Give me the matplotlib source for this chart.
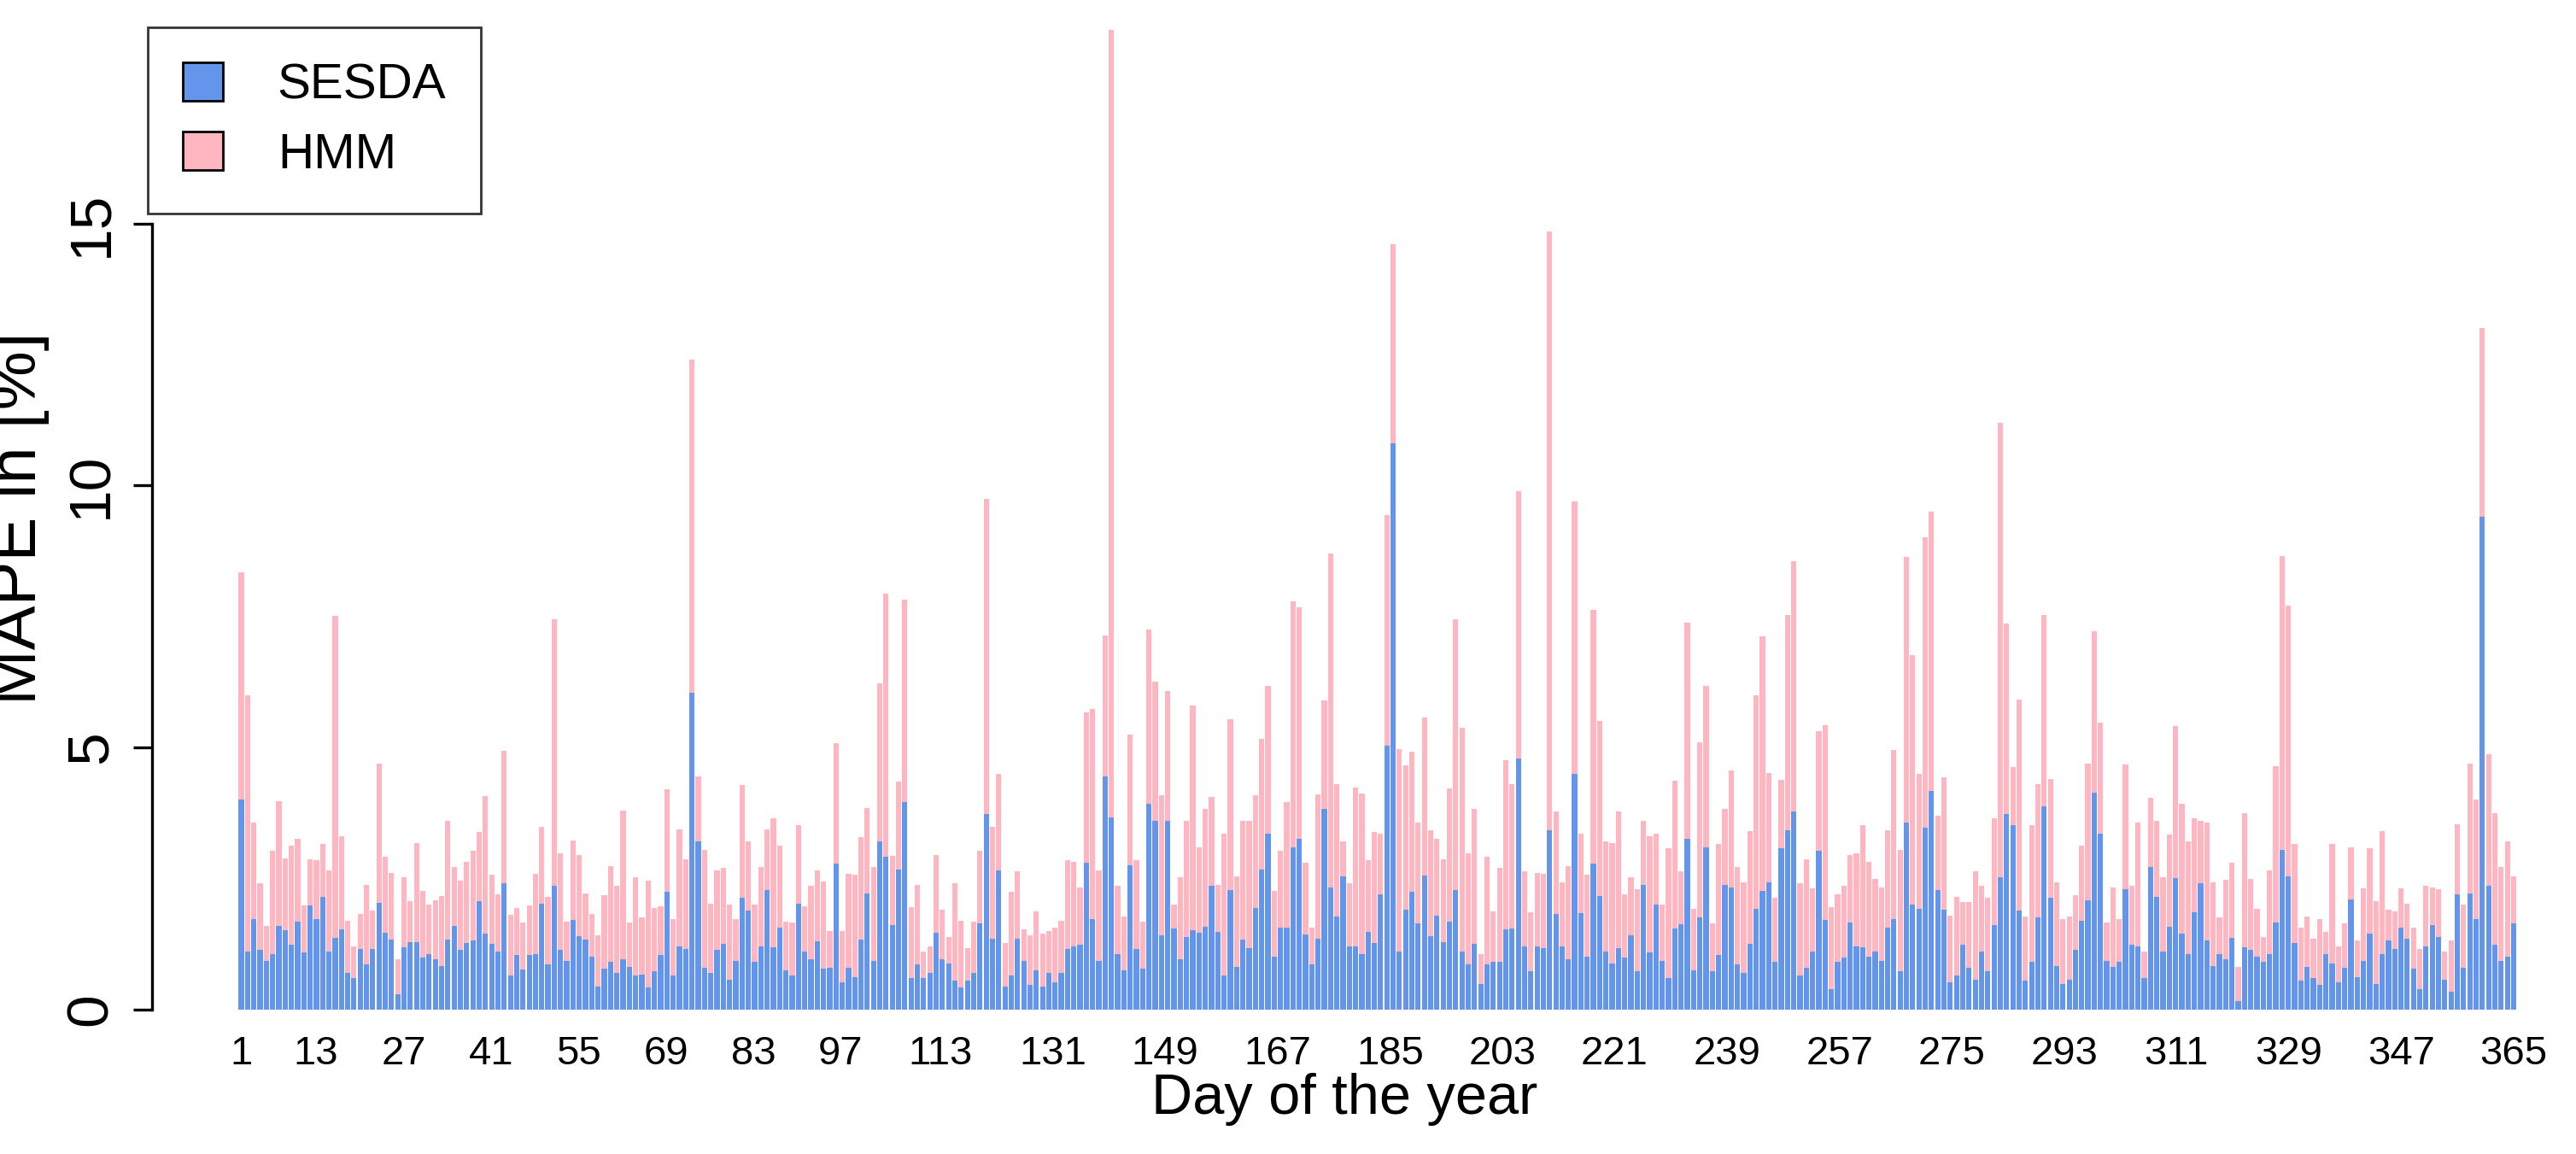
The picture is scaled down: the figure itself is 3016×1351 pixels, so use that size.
import numpy as np
import matplotlib
matplotlib.use('agg')
import matplotlib.pyplot as plt
from matplotlib.patches import Patch

plt.rcParams['font.family'] = ['Liberation Sans', 'DejaVu Sans']

# MAPE per day
hmm = [8.35, 6.0, 3.56, 2.41, 1.59, 3.03, 3.98, 2.88, 3.13, 3.26, 1.98, 2.87, 2.85, 3.16, 2.65, 7.51,
       3.31, 1.69, 1.2, 1.82, 2.38, 1.88, 4.69, 2.92, 2.6, 0.95, 2.52, 2.06, 3.18, 2.26, 2.0, 2.08,
       2.16, 3.59, 2.72, 2.46, 2.82, 3.03, 3.38, 4.07, 2.57, 2.2, 4.94, 1.8, 1.93, 1.65,
       1.98, 2.58, 3.48, 2.15, 7.44, 2.98, 1.67, 3.23, 2.95, 2.21, 1.82, 1.41, 2.18, 2.73, 2.36, 3.8,
       1.65, 2.52, 1.75, 2.46, 1.93, 1.96, 4.2, 1.73, 3.44, 2.87, 12.4, 4.44, 3.05, 2.01, 2.65, 2.7,
       2.0, 1.72, 4.28, 3.21, 2.0, 2.72, 3.44, 3.64, 3.13, 1.68, 1.65, 3.52, 1.96, 2.35,
       2.65, 2.44, 1.5, 5.08, 1.49, 2.59, 2.57, 3.28, 3.85, 2.72, 6.23, 7.94, 2.93, 4.35, 7.82, 1.95,
       2.38, 1.1, 1.2, 2.95, 1.9, 1.38, 2.4, 1.69, 1.16, 1.67, 3.03, 9.75, 3.48, 4.49, 1.26, 2.25,
       2.64, 1.52, 1.41, 1.87, 1.44, 1.5, 1.56, 1.69, 2.85, 2.82, 2.33, 5.67, 5.74, 2.65,
       7.14, 18.7, 2.36, 1.77, 5.25, 2.85, 1.67, 7.25, 6.25, 4.08, 6.07, 2.0, 2.52, 3.59, 5.8, 3.1,
       3.83, 4.05, 2.38, 3.36, 5.54, 2.54, 3.6, 3.6, 4.08, 5.17, 6.17, 2.26, 3.02, 3.95, 7.79, 7.67,
       2.8, 1.56, 4.1, 5.9, 8.71, 4.3, 3.2, 2.41, 4.23, 4.12, 2.85, 3.38, 3.35,
       9.44, 14.6, 4.97, 4.65, 4.92, 3.57, 5.57, 3.41, 3.26, 2.87, 4.22, 7.44, 5.38, 2.97, 3.82, 1.06,
       2.92, 1.87, 2.7, 4.75, 4.3, 9.9, 2.64, 1.85, 2.6, 2.59, 14.85, 3.77, 2.43, 2.73, 9.7, 3.36,
       2.57, 7.62, 5.51, 3.2, 3.17, 3.78, 2.2, 2.52, 2.3, 3.59, 3.3, 3.36, 2.0, 3.08,
       4.36, 2.64, 7.38, 1.92, 5.1, 6.17, 1.64, 3.16, 3.82, 4.56, 2.72, 2.43, 3.4, 5.99, 7.12, 4.51,
       2.13, 4.38, 7.52, 8.56, 2.4, 2.87, 2.31, 5.31, 5.43, 1.95, 2.2, 2.36, 2.95, 2.98, 3.52, 2.82,
       2.49, 2.33, 3.41, 4.95, 3.05, 8.64, 6.76, 4.49, 9.02, 9.5, 3.69, 4.43, 1.78, 2.15,
       2.05, 2.05, 2.64, 2.35, 2.13, 3.65, 11.2, 7.36, 4.62, 5.92, 1.77, 3.52, 4.3, 7.52, 4.4, 2.43,
       1.73, 1.77, 2.18, 3.12, 4.69, 7.22, 5.48, 1.65, 2.33, 1.72, 4.67, 2.35, 3.57, 1.11, 4.03, 3.6,
       2.52, 3.33, 5.4, 3.92, 3.21, 3.64, 3.6, 3.57, 2.43, 1.75, 2.48, 2.8, 0.81, 3.74,
       2.49, 1.92, 1.38, 2.65, 4.64, 8.66, 7.71, 3.16, 1.56, 1.77, 1.35, 1.73, 1.48, 3.15, 1.2, 1.64,
       3.1, 1.31, 2.31, 3.08, 2.06, 3.4, 1.9, 1.87, 2.31, 2.01, 1.56, 1.15, 2.35, 2.33, 2.3, 1.11,
       1.31, 3.54, 2.0, 4.69, 4.0, 13.0, 4.87, 3.74, 2.72, 3.21, 2.54]

sesda = [4.0, 1.1, 1.73, 1.13, 0.93, 1.05, 1.59, 1.51, 1.23, 1.67, 1.08, 1.98, 1.72, 2.15, 1.1, 1.36,
         1.52, 0.7, 0.6, 1.15, 0.85, 1.15, 2.03, 1.46, 1.33, 0.29, 1.18, 1.28, 1.28, 0.98, 1.06, 0.95,
         0.83, 1.33, 1.59, 1.13, 1.26, 1.31, 2.06, 1.44, 1.25, 1.1, 2.4, 0.64, 1.03, 0.76,
         1.03, 1.05, 2.01, 0.86, 2.36, 1.13, 0.93, 1.7, 1.39, 1.33, 1.0, 0.44, 0.78, 0.9, 0.7, 0.95,
         0.81, 0.64, 0.67, 0.41, 0.72, 1.03, 2.25, 0.64, 1.2, 1.15, 6.04, 3.2, 0.8, 0.7, 1.13, 1.25,
         0.56, 0.93, 2.13, 1.88, 0.9, 1.2, 2.28, 1.18, 1.56, 0.75, 0.65, 2.01, 1.11, 0.95,
         1.3, 0.77, 0.8, 2.78, 0.52, 0.8, 0.62, 1.33, 2.21, 0.93, 3.21, 2.92, 1.6, 2.67, 3.95, 0.59,
         0.85, 0.6, 0.7, 1.46, 0.96, 0.88, 0.54, 0.41, 0.54, 0.69, 1.64, 3.72, 1.35, 2.65, 0.43, 0.65,
         1.35, 0.93, 0.46, 0.75, 0.43, 0.7, 0.52, 0.69, 1.15, 1.2, 1.23, 2.8, 1.73, 0.93,
         4.44, 3.67, 1.06, 0.75, 2.75, 1.15, 0.78, 3.93, 3.59, 1.41, 3.59, 1.54, 0.95, 1.38, 1.51, 1.46,
         1.57, 2.35, 1.48, 0.65, 2.28, 0.81, 1.33, 1.16, 1.93, 2.67, 3.36, 1.0, 1.56, 1.56, 3.1, 3.26,
         1.43, 0.85, 1.35, 3.82, 2.33, 1.77, 2.54, 1.2, 1.2, 1.06, 1.48, 1.26, 2.2,
         5.03, 10.8, 1.1, 1.9, 2.25, 1.64, 2.56, 1.39, 1.78, 1.28, 1.67, 2.28, 1.1, 0.86, 1.25, 0.48,
         0.85, 0.9, 0.91, 1.52, 1.54, 4.79, 1.2, 0.72, 1.2, 1.16, 3.41, 1.82, 1.2, 0.95, 4.49, 1.83,
         1.01, 2.78, 2.16, 1.1, 0.88, 1.16, 0.98, 1.41, 0.73, 2.38, 1.08, 2.0, 0.93, 0.6,
         1.54, 1.63, 3.26, 0.75, 1.75, 3.1, 0.72, 1.03, 2.38, 2.33, 0.85, 0.69, 1.25, 1.92, 2.26, 2.43,
         0.91, 3.08, 3.41, 3.78, 0.65, 0.8, 1.1, 3.02, 1.7, 0.38, 0.91, 0.98, 1.65, 1.2, 1.18, 1.01,
         1.1, 0.93, 1.56, 1.72, 0.73, 3.57, 2.0, 1.92, 3.47, 4.17, 2.28, 1.9, 0.51, 0.65,
         1.24, 0.8, 0.57, 1.11, 0.73, 1.6, 2.52, 3.72, 3.51, 1.88, 0.54, 0.91, 1.75, 3.88, 2.13, 0.83,
         0.49, 0.56, 1.13, 1.69, 2.08, 4.13, 3.35, 0.93, 0.81, 0.9, 2.3, 1.23, 1.2, 0.59, 2.72, 2.15,
         1.1, 1.57, 2.51, 1.44, 1.05, 1.85, 2.41, 1.31, 0.83, 1.06, 0.95, 1.36, 0.16, 1.18,
         1.13, 1.01, 0.91, 1.06, 1.65, 3.05, 2.54, 1.26, 0.54, 0.81, 0.6, 0.46, 1.06, 0.88, 0.51, 0.8,
         2.1, 0.62, 0.93, 1.44, 0.48, 1.05, 1.31, 1.15, 1.56, 1.35, 0.77, 0.38, 1.2, 1.6, 1.38, 0.56,
         0.34, 2.2, 0.8, 2.21, 1.73, 9.4, 2.36, 1.23, 0.93, 1.01, 1.64]

tick_days = [1, 13, 27, 41, 55, 69, 83, 97, 113, 131, 149, 167, 185, 203, 221, 239, 257, 275,
             293, 311, 329, 347, 365]
y_ticks = [0, 5, 10, 15]

fig = plt.figure(figsize=(15.08, 6.755), dpi=200)
ax = fig.add_axes([0.059, 0.1254, 0.926, 0.851])

x = np.linspace(1, 365, len(hmm))
ax.bar(x, hmm, width=0.85, color='#FFB6C1', linewidth=0)
ax.bar(x, sesda, width=0.85, color='#6495ED', linewidth=0)

ax.set_xlim(-13.3, 368.8)
ax.set_ylim(0, 18.75)
for s in ax.spines.values():
    s.set_visible(False)

# R style axes
ax.plot([-13.3, -13.3], [0, 15], color='black', lw=1.2, clip_on=False)
ax.set_yticks(y_ticks)
ax.set_yticklabels([str(t) for t in y_ticks], rotation=90, va='center', fontsize=25)
ax.tick_params(axis='y', length=8, width=1.2, pad=6)
ax.set_xticks(tick_days)
ax.set_xticklabels([str(t) for t in tick_days], fontsize=17)
ax.tick_params(axis='x', length=0, pad=11)

ax.set_xlabel('Day of the year', fontsize=24, labelpad=0)
ax.set_ylabel('MAPE in [%]', fontsize=28, labelpad=6)

handles = [Patch(facecolor='#6495ED', edgecolor='black', label='SESDA'),
           Patch(facecolor='#FFB6C1', edgecolor='black', label='HMM')]
leg = fig.legend(handles=handles, loc='upper left', bbox_to_anchor=(0.0574, 0.976),
                 fontsize=21, frameon=True, fancybox=False, edgecolor='black',
                 handlelength=0.8, handleheight=0.8, borderpad=0.7, labelspacing=0.45,
                 handletextpad=1.1, borderaxespad=0)
leg.get_frame().set_linewidth(1.0)

fig.savefig('out.png', dpi=200)
